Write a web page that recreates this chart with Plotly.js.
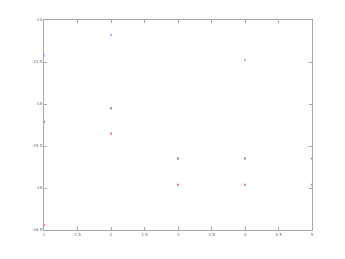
<!DOCTYPE html>
<html>
<head>
<meta charset="utf-8">
<script src="https://cdn.plot.ly/plotly-3.0.1.min.js"></script>
<style>html,body{margin:0;padding:0;background:#fff;}#chart{width:345px;height:259px;}</style>
</head>
<body>
<div id="chart"></div>
<script>
var xValues = [1, 2, 3, 4, 5];
var blueSeries = [-14.42, -14.18, null, -14.48, null];
var graySeries = [-15.21, -15.05, -15.65, -15.65, -15.65];
var redSeries = [-16.44, -15.35, -15.96, -15.96, -15.96];
var xTicks = [1, 1.5, 2, 2.5, 3, 3.5, 4, 4.5, 5];
var yTicks = [-16.5, -16, -15.5, -15, -14.5, -14];

var traces = [
  {x: xValues, y: blueSeries, mode: 'markers', type: 'scatter', cliponaxis: false,
   marker: {symbol: 'square', size: 2, color: '#b4b4ff'}},
  {x: xValues, y: graySeries, mode: 'markers', type: 'scatter', cliponaxis: false,
   marker: {symbol: 'square', size: 2, color: '#8a8a8a'}},
  {x: xValues, y: redSeries, mode: 'markers', type: 'scatter', cliponaxis: false,
   marker: {symbol: 'square', size: 2, color: '#ff7078'}}
];

var axisCommon = {
  showgrid: false, zeroline: false, showline: true, linecolor: '#a8a8a8', linewidth: 1,
  mirror: 'ticks', ticks: 'inside', ticklen: 3, tickcolor: '#a8a8a8',
  tickfont: {size: 4, color: '#666', family: 'DejaVu Sans'}
};

var layout = {
  width: 345, height: 259,
  margin: {l: 44, r: 33, t: 20, b: 28.5, pad: 0},
  paper_bgcolor: '#fff', plot_bgcolor: '#fff',
  showlegend: false,
  xaxis: Object.assign({}, axisCommon, {range: [1, 5], tickvals: xTicks, ticktext: xTicks.map(String)}),
  yaxis: Object.assign({}, axisCommon, {range: [-16.5, -14], tickvals: yTicks, ticktext: yTicks.map(String)})
};

Plotly.newPlot('chart', traces, layout, {staticPlot: true, displayModeBar: false});
</script>
</body>
</html>
